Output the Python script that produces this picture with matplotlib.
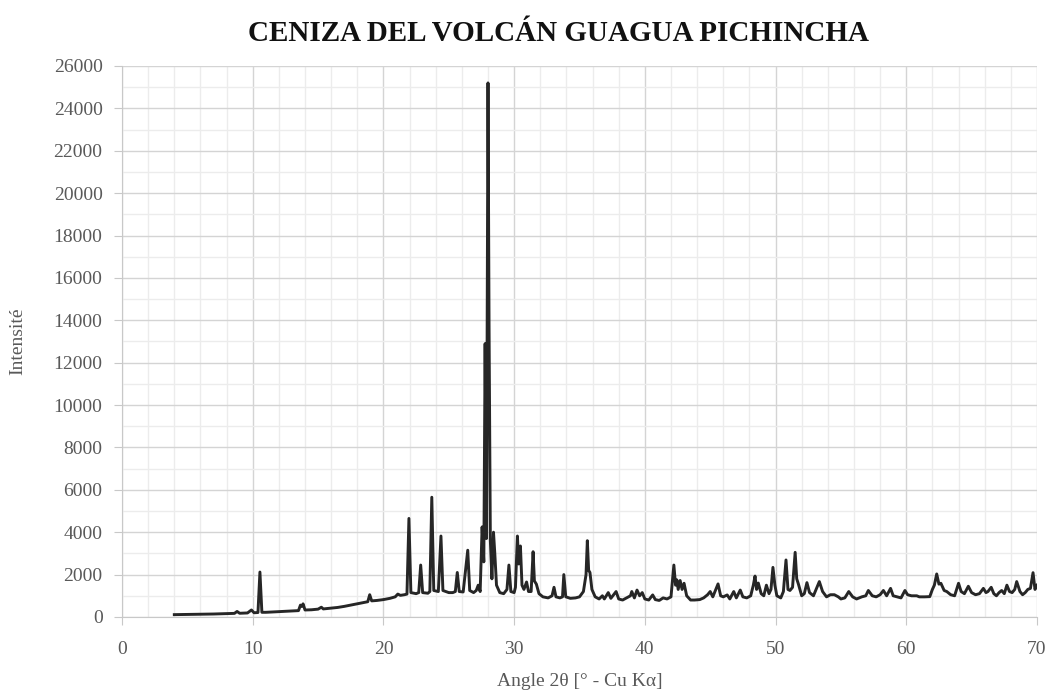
import matplotlib.pyplot as plt
from matplotlib.ticker import MultipleLocator

# XRD pattern
two_theta = [
    4.0, 5.0, 6.0, 7.0, 8.0, 8.6, 8.8, 9.0, 9.6, 9.9, 10.1, 10.4, 10.55, 10.7,
    11.0, 12.0, 13.0, 13.5, 13.65, 13.75, 13.85, 14.0, 14.5, 15.0, 15.25, 15.4,
    16.0, 16.5, 17.0, 17.5, 18.0, 18.5, 18.8, 18.95, 19.1, 19.5, 20.0, 20.5,
    20.9, 21.1, 21.3, 21.6, 21.8, 21.95, 22.1, 22.5, 22.7, 22.85, 23.0, 23.4,
    23.55, 23.7, 23.85, 24.2, 24.4, 24.55, 25.0, 25.3, 25.5, 25.65, 25.8, 26.1,
    26.45, 26.6, 26.9, 27.1, 27.25, 27.4, 27.55, 27.68, 27.78, 27.88, 28.0,
    28.08, 28.18, 28.3, 28.42, 28.52, 28.65, 28.9, 29.2, 29.45, 29.6, 29.75,
    30.0, 30.1, 30.25, 30.35, 30.48, 30.6, 30.75, 30.95, 31.1, 31.3, 31.45,
    31.55, 31.7, 31.9, 32.2, 32.6, 32.9, 33.05, 33.2, 33.5, 33.7, 33.8, 33.95,
    34.3, 34.7, 35.0, 35.3, 35.5, 35.6, 35.7, 35.8, 35.95, 36.2, 36.5, 36.75,
    36.9, 37.2, 37.4, 37.8, 38.0, 38.3, 38.6, 38.9, 39.0, 39.2, 39.4, 39.6,
    39.8, 40.0, 40.3, 40.6, 40.8, 41.1, 41.4, 41.7, 42.0, 42.22, 42.35, 42.45,
    42.55, 42.7, 42.85, 43.0, 43.2, 43.5, 43.8, 44.2, 44.5, 44.8, 45.0, 45.2,
    45.6, 45.8, 46.0, 46.3, 46.5, 46.8, 47.0, 47.3, 47.5, 47.8, 48.1, 48.3,
    48.43, 48.55, 48.68, 48.9, 49.1, 49.3, 49.5, 49.65, 49.8, 49.95, 50.1,
    50.4, 50.6, 50.8, 50.95, 51.1, 51.3, 51.5, 51.62, 51.75, 52.0, 52.2, 52.4,
    52.6, 52.9, 53.1, 53.35, 53.6, 53.9, 54.2, 54.5, 54.8, 55.0, 55.3, 55.6,
    55.9, 56.2, 56.6, 56.9, 57.1, 57.4, 57.7, 58.0, 58.25, 58.5, 58.8, 59.0,
    59.3, 59.6, 59.9, 60.1, 60.4, 60.8, 61.0, 61.4, 61.8, 62.0, 62.15, 62.33,
    62.5, 62.65, 62.9, 63.1, 63.4, 63.7, 64.0, 64.2, 64.45, 64.75, 65.0, 65.3,
    65.6, 65.9, 66.1, 66.25, 66.5, 66.7, 66.9, 67.1, 67.3, 67.5, 67.7, 67.9,
    68.1, 68.3, 68.45, 68.7, 68.9, 69.1, 69.3, 69.5, 69.7, 69.85, 70.0,
]
intensity = [
    110, 120, 130, 140, 160, 170, 260, 175, 190, 330, 200, 210, 2120, 220,
    220, 250, 280, 300, 560, 500, 620, 330, 340, 370, 460, 380,
    420, 450, 500, 560, 620, 680, 720, 1050, 760, 780, 820, 880,
    950, 1080, 1020, 1050, 1080, 4650, 1150, 1100, 1150, 2450, 1150, 1120,
    1200, 5650, 1250, 1200, 3820, 1250, 1150, 1150, 1200, 2100, 1200, 1180,
    3150, 1250, 1150, 1250, 1500, 1200, 4250, 2600, 12900, 3700, 25200,
    13800, 3600, 1800, 4000, 3000, 1500, 1150, 1100, 1300, 2450, 1200,
    1150, 1400, 3820, 2500, 3350, 1500, 1300, 1650, 1200, 1200, 3080,
    1700, 1550, 1100, 950, 900, 1000, 1400, 950, 900, 950, 2000, 950,
    880, 900, 950, 1200, 2000, 3600, 2200, 2100, 1300, 950, 850, 1000,
    850, 1150, 880, 1200, 850, 800, 900, 1000, 1200, 900, 1270, 1000,
    1150, 850, 800, 1040, 820, 780, 900, 850, 950, 2450, 1500, 1750,
    1300, 1720, 1300, 1590, 1000, 800, 800, 820, 900, 1050, 1200, 950,
    1560, 1000, 950, 1040, 850, 1200, 900, 1270, 950, 900, 1000, 1500,
    1930, 1300, 1600, 1100, 1000, 1500, 1100, 1300, 2340, 1500, 1000,
    900, 1200, 2690, 1300, 1250, 1400, 3050, 1800, 1550, 1000, 1100, 1620,
    1150, 1000, 1300, 1670, 1200, 950, 1050, 1050, 950, 850, 900, 1200,
    950, 850, 950, 1000, 1250, 1000, 950, 1050, 1250, 1000, 1350, 1000,
    950, 900, 1250, 1050, 1000, 1000, 950, 950, 960, 1300, 1500, 2030,
    1550, 1590, 1250, 1200, 1050, 1000, 1590, 1200, 1100, 1450, 1150, 1050,
    1100, 1350, 1150, 1200, 1400, 1100, 1000, 1150, 1250, 1100, 1500, 1200,
    1150, 1300, 1670, 1200, 1050, 1150, 1300, 1350, 2090, 1300, 1500,
]

serif = ['Liberation Serif', 'DejaVu Serif']
gray = '#595959'

fig = plt.figure(figsize=(10.52, 6.93), dpi=100)
ax = fig.add_axes([0.116, 0.1097, 0.8697, 0.7951])

ax.plot(two_theta, intensity, color='#262626', linewidth=2.1, solid_joinstyle='round')

ax.set_xlim(0, 70)
ax.set_ylim(0, 26000)
ax.xaxis.set_major_locator(MultipleLocator(10))
ax.xaxis.set_minor_locator(MultipleLocator(2))
ax.yaxis.set_major_locator(MultipleLocator(2000))
ax.yaxis.set_minor_locator(MultipleLocator(1000))

ax.grid(which='major', color='#d4d4d4', linewidth=1.0)
ax.grid(which='minor', color='#ececec', linewidth=1.0)
ax.set_axisbelow(True)

for side in ['top', 'right']:
    ax.spines[side].set_visible(False)
for side in ['left', 'bottom']:
    ax.spines[side].set_color('#c8c8c8')

ax.tick_params(which='major', length=6, color='#c8c8c8', labelcolor=gray,
               labelsize=14, pad=8)
ax.tick_params(axis='x', which='major', pad=11)
ax.tick_params(which='minor', length=0)
for lab in ax.get_xticklabels() + ax.get_yticklabels():
    lab.set_family(serif)

ax.set_xlabel('Angle 2θ [° - Cu Kα]', family=serif, fontsize=14, color=gray, labelpad=11)
ax.set_ylabel('Intensité', family=serif, fontsize=14, color=gray, labelpad=20)

fig.text(0.531, 0.952, 'CENIZA DEL VOLCÁN GUAGUA PICHINCHA', family=serif,
         fontsize=21, fontweight='bold', ha='center', va='center', color='#111111')

fig.savefig('out.png', dpi=100)
